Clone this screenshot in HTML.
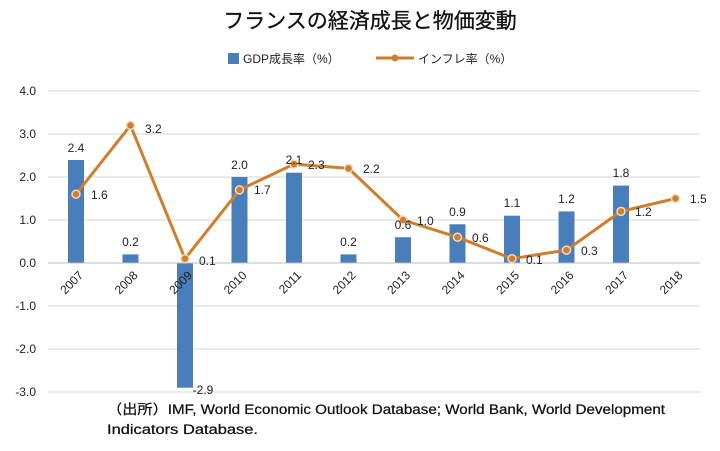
<!DOCTYPE html>
<html><head><meta charset="utf-8"><style>
html,body{margin:0;padding:0;background:#fff;}
svg{display:block;font-family:"Liberation Sans","Noto Sans CJK JP",sans-serif;}
</style></head><body>
<svg width="720" height="451" viewBox="0 0 720 451">
<text x="370" y="28" font-size="21" text-anchor="middle" fill="#111" stroke="#111" stroke-width="0.3">フランスの経済成長と物価変動</text>
<rect x="228" y="53" width="11" height="11" fill="#4a7ebb"/>
<text x="243" y="63" font-size="12" fill="#222">GDP成長率（%）</text>
<line x1="376" y1="58" x2="414" y2="58" stroke="#cf7e2e" stroke-width="3"/>
<circle cx="395" cy="58" r="3.5" fill="#cf7e2e"/>
<text x="418" y="63" font-size="12" fill="#222">インフレ率（%）</text>
<g stroke="#d4d4d4" stroke-width="1">
<line x1="48" y1="91" x2="700" y2="91"/><line x1="48" y1="134" x2="700" y2="134"/>
<line x1="48" y1="177" x2="700" y2="177"/><line x1="48" y1="220" x2="700" y2="220"/>
<line x1="48" y1="306" x2="700" y2="306"/><line x1="48" y1="349" x2="700" y2="349"/>
<line x1="48" y1="392" x2="700" y2="392"/>
</g>
<g font-size="12" fill="#222" text-anchor="end">
<text x="36" y="95">4.0</text><text x="36" y="138">3.0</text><text x="36" y="181">2.0</text>
<text x="36" y="224">1.0</text><text x="36" y="267">0.0</text><text x="36" y="310">-1.0</text>
<text x="36" y="353">-2.0</text><text x="36" y="396">-3.0</text>
</g>
<g fill="#4a7ebb">
<rect x="68" y="160" width="16" height="103"/>
<rect x="122.5" y="254.4" width="16" height="8.6"/>
<rect x="177" y="263" width="16" height="124.7"/>
<rect x="231.5" y="177" width="16" height="86"/>
<rect x="286" y="172.7" width="16" height="90.3"/>
<rect x="340.5" y="254.4" width="16" height="8.6"/>
<rect x="395" y="237.2" width="16" height="25.8"/>
<rect x="449.5" y="224.3" width="16" height="38.7"/>
<rect x="504" y="215.7" width="16" height="47.3"/>
<rect x="558.5" y="211.4" width="16" height="51.6"/>
<rect x="613" y="185.6" width="16" height="77.4"/>
</g>
<line x1="48" y1="263" x2="700" y2="263" stroke="#bbb" stroke-width="1"/>
<polyline fill="none" stroke="#cf7e2e" stroke-width="3" stroke-linejoin="round" points="76,194.2 130.5,125.4 185,258.7 239.5,189.9 294,164.1 348.5,168.4 403,220 457.5,237.2 512,258.7 566.5,250.1 621,211.4 675.5,198.5"/>
<g fill="#cf7e2e" stroke="#f3d9bf" stroke-width="1.5">
<circle cx="76" cy="194.2" r="4"/><circle cx="130.5" cy="125.4" r="4"/><circle cx="185" cy="258.7" r="4"/>
<circle cx="239.5" cy="189.9" r="4"/><circle cx="294" cy="164.1" r="4"/><circle cx="348.5" cy="168.4" r="4"/>
<circle cx="403" cy="220" r="4"/><circle cx="457.5" cy="237.2" r="4"/><circle cx="512" cy="258.7" r="4"/>
<circle cx="566.5" cy="250.1" r="4"/><circle cx="621" cy="211.4" r="4"/><circle cx="675.5" cy="198.5" r="4"/>
</g>
<g font-size="12" fill="#222" text-anchor="middle">
<text x="76" y="152">2.4</text><text x="130.5" y="246">0.2</text><text x="203" y="394">-2.9</text>
<text x="239.5" y="169">2.0</text><text x="294" y="164">2.1</text><text x="348.5" y="246">0.2</text>
<text x="403" y="229">0.6</text><text x="457.5" y="216">0.9</text><text x="512" y="207">1.1</text>
<text x="566.5" y="203">1.2</text><text x="621" y="177">1.8</text>
</g>
<g font-size="12" fill="#222">
<text x="91" y="199">1.6</text><text x="145" y="133">3.2</text><text x="199" y="265">0.1</text>
<text x="254" y="194">1.7</text><text x="308" y="169">2.3</text><text x="363" y="173">2.2</text>
<text x="417" y="225">1.0</text><text x="472" y="242">0.6</text><text x="526" y="264">0.1</text>
<text x="581" y="255">0.3</text><text x="635" y="216">1.2</text><text x="690" y="203">1.5</text>
</g>
<g font-size="12" fill="#222" text-anchor="end">
<text transform="translate(84,276) rotate(-45)">2007</text>
<text transform="translate(138.5,276) rotate(-45)">2008</text>
<text transform="translate(193,276) rotate(-45)">2009</text>
<text transform="translate(247.5,276) rotate(-45)">2010</text>
<text transform="translate(302,276) rotate(-45)">2011</text>
<text transform="translate(356.5,276) rotate(-45)">2012</text>
<text transform="translate(411,276) rotate(-45)">2013</text>
<text transform="translate(465.5,276) rotate(-45)">2014</text>
<text transform="translate(520,276) rotate(-45)">2015</text>
<text transform="translate(574.5,276) rotate(-45)">2016</text>
<text transform="translate(629,276) rotate(-45)">2017</text>
<text transform="translate(683.5,276) rotate(-45)">2018</text>
</g>
<text x="107" y="414" font-size="13.5" fill="#111" stroke="#111" stroke-width="0.25" textLength="558" lengthAdjust="spacingAndGlyphs">（出所）IMF, World Economic Outlook Database; World Bank, World Development</text>
<text x="107" y="434" font-size="13.5" fill="#111" stroke="#111" stroke-width="0.25" textLength="151" lengthAdjust="spacingAndGlyphs">Indicators Database.</text>
</svg>
</body></html>
